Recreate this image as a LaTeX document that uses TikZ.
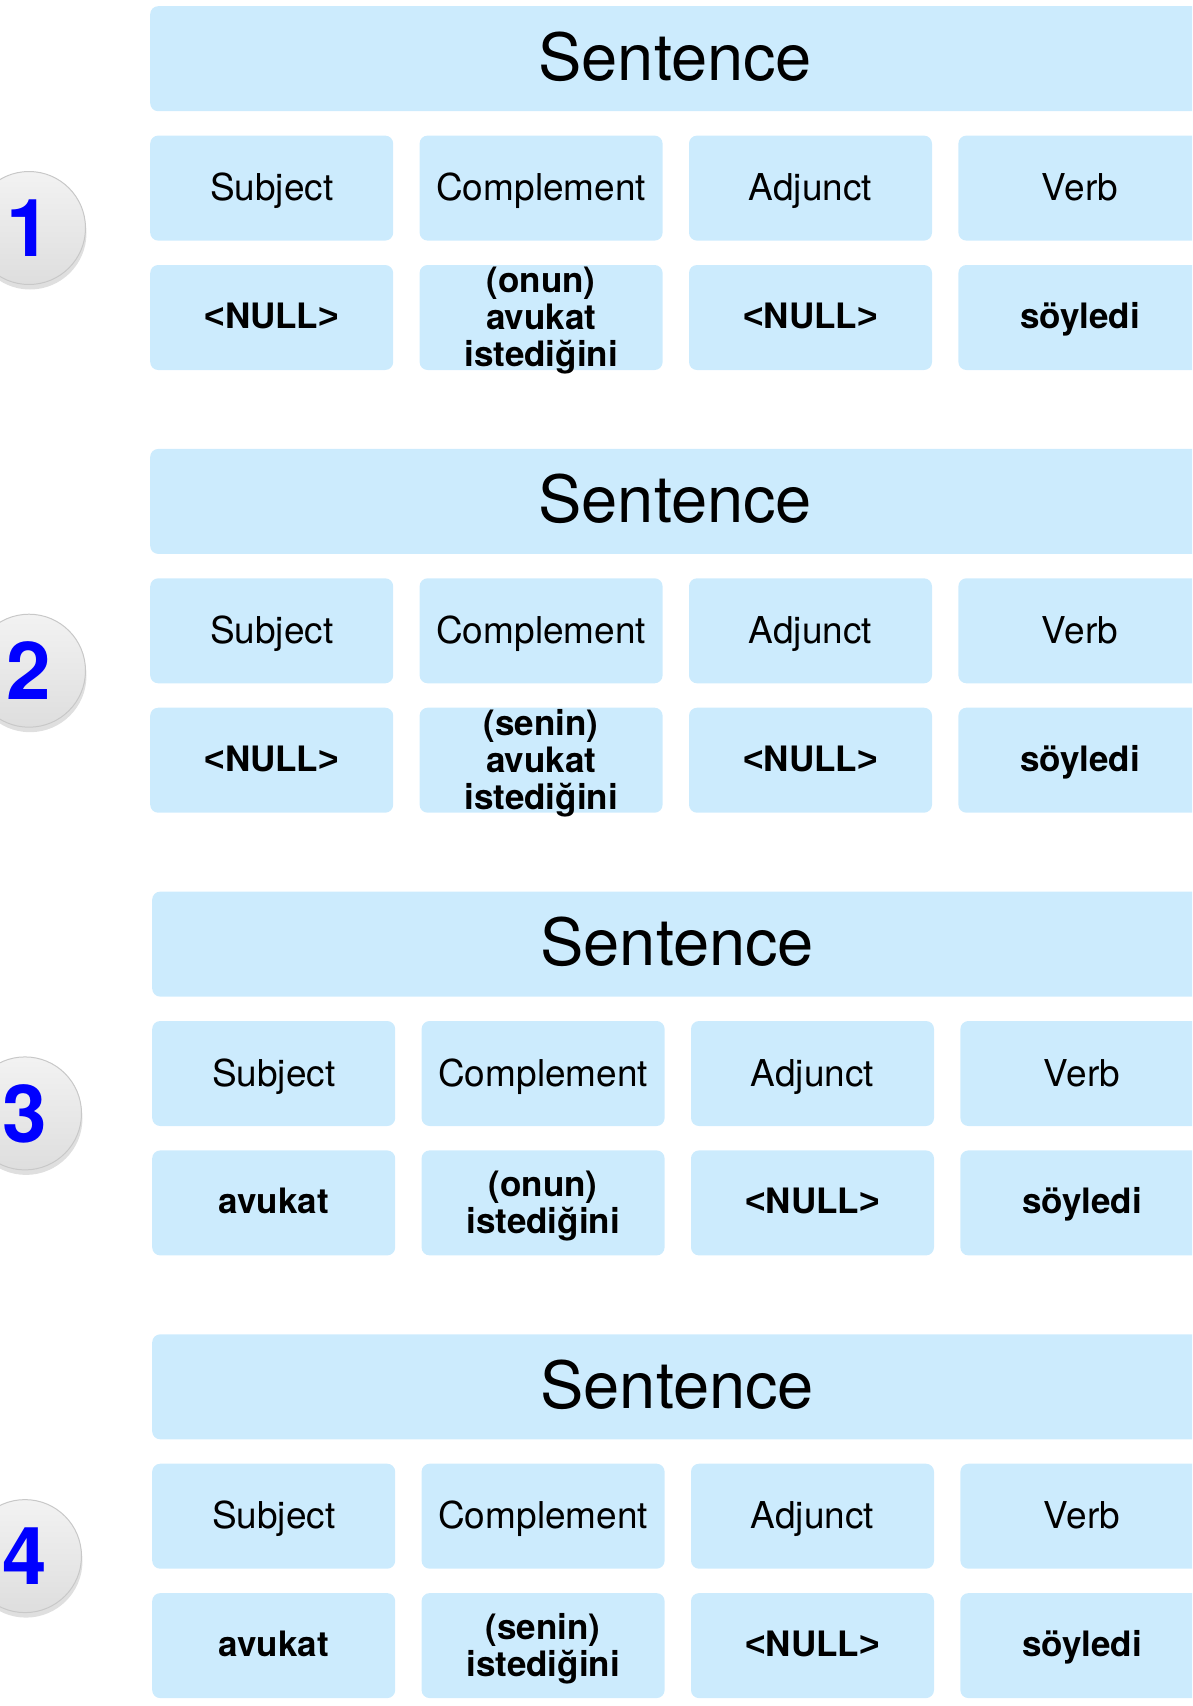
\documentclass[tikz,border=0pt]{standalone}
\usepackage{fontspec}
\setmainfont{TeX Gyre Heros}
\newfontfamily\signfont{Liberation Sans}
\usepackage{tikz}
\usetikzlibrary{positioning, shadows}
\definecolor{cellblue}{RGB}{204,235,253}
\definecolor{badgeline}{RGB}{200,200,200}
\newcommand*{\stack}[1]{\begin{tabular}{@{}c@{}}#1\end{tabular}}
\newcommand*{\nullword}{{\signfont<}NULL{\signfont>}}

\tikzset{
 cell/.style={fill=cellblue, rounded corners=8pt, minimum width=243pt, minimum height=105pt, inner sep=0pt, anchor=north west},
 headbox/.style={cell, minimum width=1050pt, font=\fontsize{65}{70}\selectfont, text height=45pt, text depth=2pt},
 role/.style={cell, font=\fontsize{37}{40}\selectfont, text height=25pt, text depth=0pt},
 word/.style={cell, font=\fontsize{35}{36}\selectfont\bfseries, text height=24pt, text depth=2pt},
 badge/.style={circle, minimum size=113pt, inner sep=0pt, draw=badgeline, line width=1pt, top color=black!5, bottom color=black!13, drop shadow={shadow xshift=1pt, shadow yshift=-5pt, opacity=0.25}, text=blue, font=\fontsize{80}{80}\selectfont\bfseries}
}

\begin{document}
\begin{tikzpicture}[x=1pt, y=-1pt]
 \useasboundingbox (0,0) rectangle (1192,1706);
 \clip (0,0) rectangle (1192,1706);
 \foreach \n/\dx/\cx/\subjv/\compv in {
   1/0/29/{\nullword}/{\stack{(onun)\\avukat\\istediğini}},
   2/0/29/{\nullword}/{\stack{(senin)\\avukat\\istediğini}},
   3/2/25/avukat/{\stack{(onun)\\istediğini}},
   4/2/25/avukat/{\stack{(senin)\\istediğini}}}{
  \pgfmathsetmacro{\ytop}{6+442.7*(\n-1)}
  \node[headbox] (sent\n) at (150+\dx,\ytop) {Sentence};
  % roles
  \node[role, below=24pt of sent\n.south west, anchor=north west] (subj\n) {Subject};
  \node[role, right=26pt of subj\n] (comp\n) {Complement};
  \node[role, right=26pt of comp\n] (adj\n) {Adjunct};
  \node[role, right=26pt of adj\n] (verb\n) {Verb};
  % words
  \node[word, below=24pt of subj\n.south west, anchor=north west] (subjv\n) {\subjv};
  \node[word, right=26pt of subjv\n] (compv\n) {\compv};
  \node[word, right=26pt of compv\n] (adjv\n) {\nullword};
  \node[word, right=26pt of adjv\n] (verbv\n) {söyledi};
  \node[badge] (num\n) at (\cx,\ytop+222) {\n};
 }
\end{tikzpicture}
\end{document}
